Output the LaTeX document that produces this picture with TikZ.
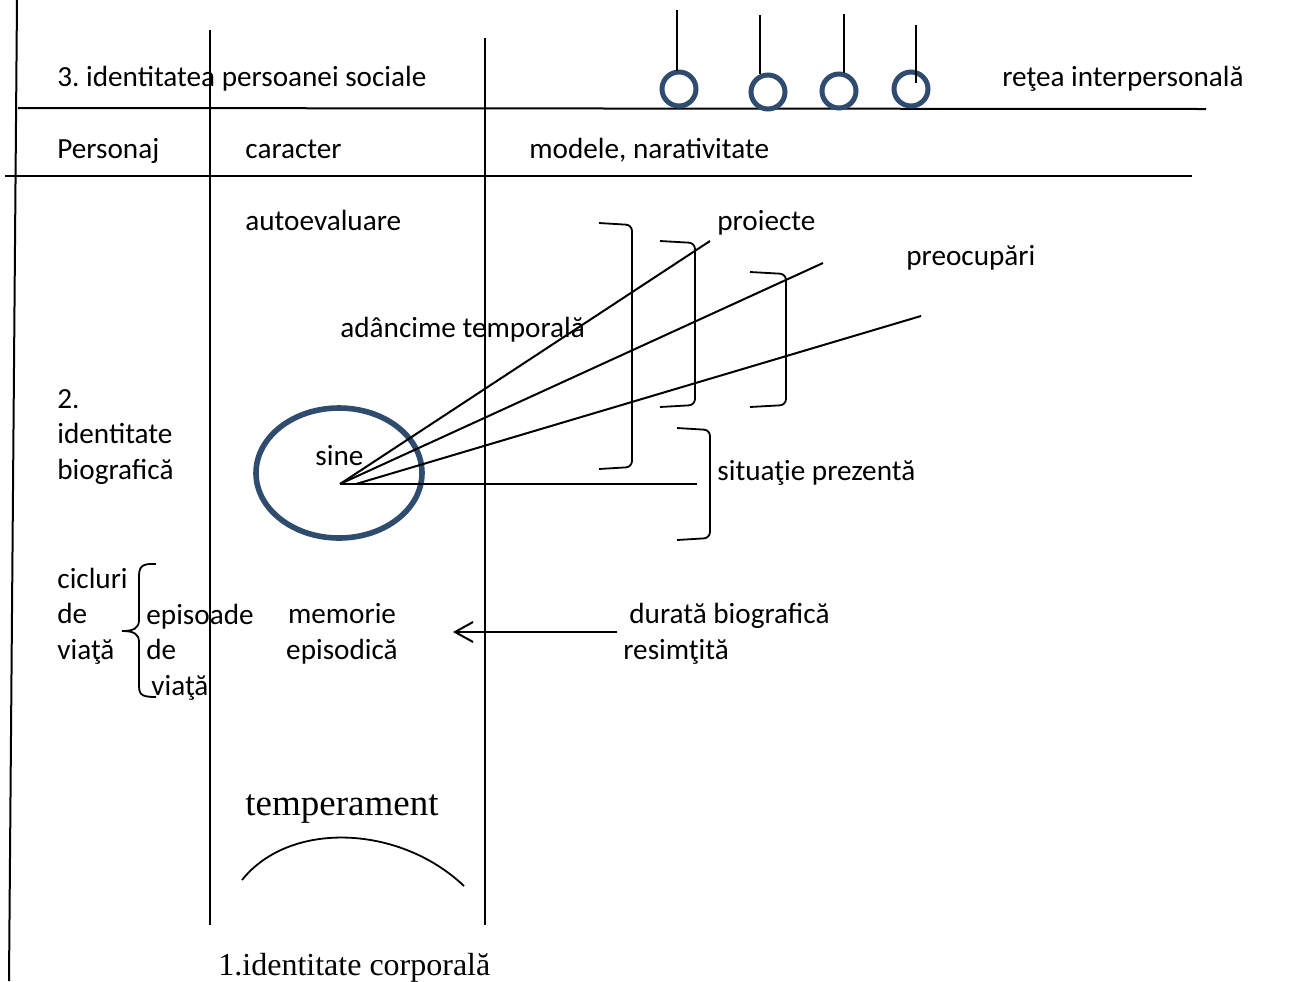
\documentclass[tikz,border=0pt]{standalone}
\usepackage{fontspec}
\setmainfont{Carlito}
\newfontfamily\timesfont{Liberation Serif}
\usetikzlibrary{arrows.meta}
\definecolor{cRing}{HTML}{2F4B6E}
\definecolor{cInk}{HTML}{000000}
\frenchspacing

\begin{document}
\begin{tikzpicture}[x=0.5pt, y=-0.5pt,
    lbl/.style={anchor=base west, inner sep=0pt, align=left,
                font=\fontsize{14.6}{17.75}\selectfont},
    srf/.style={anchor=base west, inner sep=0pt, font=\timesfont},
    rule/.style={draw=cInk, line width=1pt},
    ring/.style={draw=cRing, line width=2.5pt},
    brk/.style={draw=cInk, line width=0.9pt, rounded corners=3pt},
    ar/.style={-{Straight Barb[length=9pt,width=10pt]}, line width=1pt},
]
\useasboundingbox (0,0) rectangle (1307,981);

% === GRID: columns and rows ===
\draw[rule] (17,0) -- (9,981);
\draw[rule] (210,30) -- (210,925);
\draw[rule] (485,38) -- (485,925);
\draw[rule] (18,108) -- (1206,109);
\draw[rule] (5,176) -- (1192,176);

% === ROW 3: social person, network of rings ===
\node[lbl] (soc) at (57,86) {3. identitatea persoanei sociale};
\node[lbl] (net) at (1002,86) {reţea interpersonală};

\draw[ring] (679,89) circle[radius=17];
\draw[ring] (768,92) circle[radius=17];
\draw[ring] (839,91) circle[radius=17];
\draw[ring] (911,89) circle[radius=17];
\draw[rule] (677,10) -- (677,71);
\draw[rule] (760,15) -- (760,74);
\draw[rule] (844,14) -- (844,73);
\draw[rule] (916,25) -- (916,83);

% === HEADER ROW ===
\node[lbl] (pers) at (57,158) {Personaj};
\node[lbl] (car) at (245,158) {caracter};
\node[lbl] (mod) at (529,158) {modele, narativitate};

% === ROW 2: biographical identity ===
\node[lbl] (auto) at (245,230) {autoevaluare};
\node[lbl] (proj) at (717,230) {proiecte};
\node[lbl] (preo) at (906,265) {preocupări};
\node[lbl] (depth) at (340,337) {adâncime temporală};
\node[lbl] (bio) at (57,479) {2.\\identitate\\biografică};

\draw[ring, line width=2.8pt] (339,473) ellipse[x radius=83, y radius=65];
\node[lbl] (sine) at (315,465) {sine};

\coordinate (self) at (340,484);
\coordinate (selfB) at (356,484);
\coordinate (fanA) at (710,241);
\coordinate (fanB) at (823,263);
\coordinate (fanC) at (921,316);
\coordinate (fanD) at (697,484);
\draw[rule] (self) -- (fanA);
\draw[rule] (self) -- (fanB);
\draw[rule] (selfB) -- (fanC);
\draw[rule] (self) -- (fanD);

% brackets over the fan
\draw[brk] (599,223) -- (632,225) -- (632,467) -- (599,469);
\draw[brk] (660,241) -- (695,243) -- (695,405) -- (660,407);
\draw[brk] (750,272) -- (786,274) -- (786,405) -- (750,407);
\draw[brk] (677,428) -- (710,430) -- (710,538) -- (677,540);
\node[lbl] (sit) at (717,480) {situaţie prezentă};

% === life cycles, episodes, memory ===
\node[lbl] (cyc) at (57,659) {cicluri\\de\\viaţă};
\draw[draw=cInk, line width=0.9pt]
    (156,564) .. controls (140,563) and (139,568) .. (139,578) -- (139,620)
    .. controls (139,628) and (134,631) .. (122,631)
    .. controls (134,631) and (139,634) .. (139,642) -- (139,684)
    .. controls (139,694) and (140,697) .. (156,697);
\node[lbl] (epi) at (146,695) {episoade\\de\\\hspace*{2.5pt}viaţă};
\node[lbl, anchor=base, align=center] (mem) at (342,659) {memorie\\episodică};
\node[lbl] (dur) at (623,659) {\hspace*{3pt}durată biografică\\resimţită};

\coordinate (durL) at (617,632);
\coordinate (memR) at (453,632);
\draw[ar] (durL) -- (memR);

% === ROW 1: bodily identity ===
\node[srf, font=\timesfont\fontsize{18.5}{22}\selectfont] (temp) at (245,815) {temperament};
\draw[draw=cInk, line width=0.9pt] (242,880) .. controls (290,820) and (400,825) .. (464,886);
\node[srf, font=\timesfont\fontsize{16}{19}\selectfont] (corp) at (218,975) {1.identitate corporală};

\end{tikzpicture}
\end{document}
